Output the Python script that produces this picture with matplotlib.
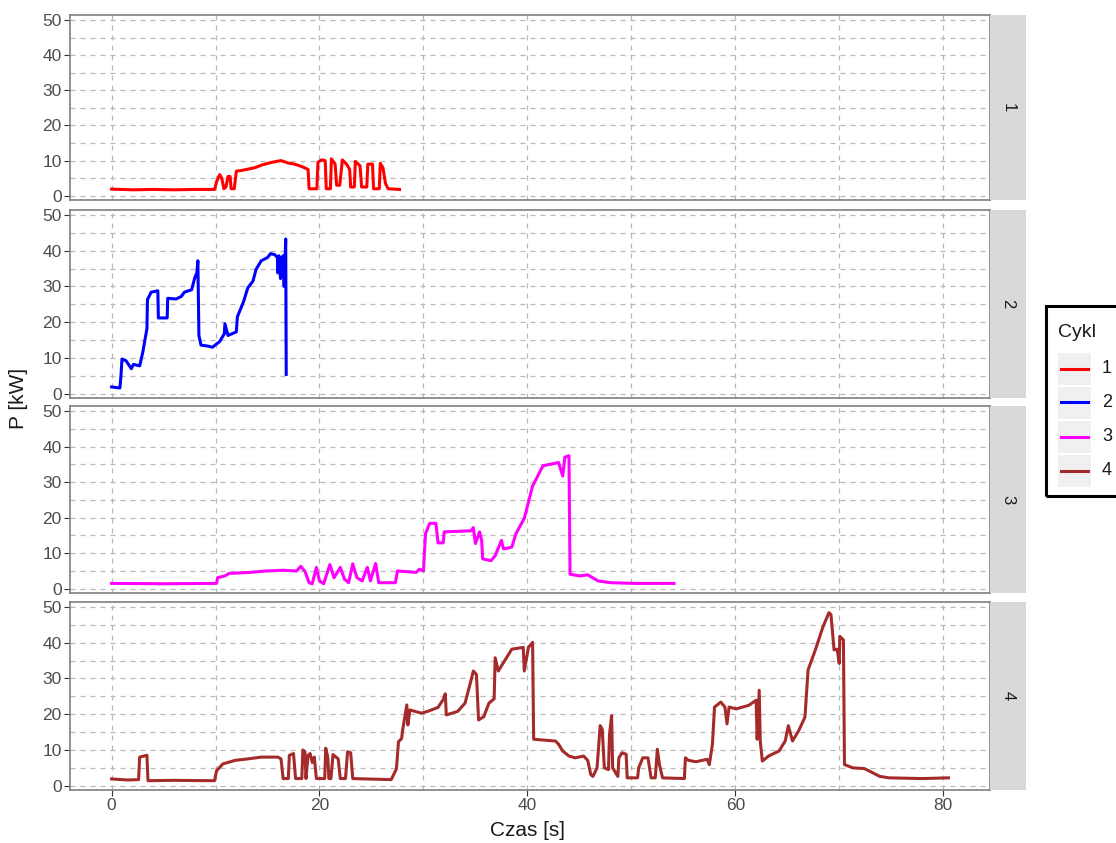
import matplotlib
matplotlib.use("Agg")
import matplotlib.pyplot as plt
from matplotlib.patches import Rectangle
from matplotlib.lines import Line2D

plt.rcParams["font.family"] = ["Liberation Sans", "DejaVu Sans"]

# --- data: time [s], power [kW] per cycle ---
t1 = [0, 2, 4, 6, 8, 9.9, 10.1, 10.4, 10.6, 10.8, 11.0, 11.2, 11.4, 11.5, 11.8, 12.0,
      12.5, 13.0, 13.8, 14.5, 15.4, 16.3, 17.0, 17.6, 18.3, 18.9, 19.0, 19.75, 19.85,
      20.2, 20.55, 20.65, 21.05, 21.15, 21.5, 21.65, 21.95, 22.2, 22.6, 22.9, 23.0, 23.35,
      23.45, 23.9, 24.05, 24.55, 24.65, 25.1, 25.2, 25.75, 25.85, 26.1, 26.35, 26.6, 27.7]
p1 = [1.9, 1.7, 1.8, 1.7, 1.8, 1.8, 4.0, 6.0, 5.0, 2.0, 2.5, 5.5, 5.5, 2.0, 2.0, 7.0,
      7.2, 7.5, 8.0, 8.8, 9.5, 10.0, 9.3, 9.0, 8.3, 7.5, 2.0, 2.0, 9.5,
      10.2, 10.0, 2.0, 2.0, 10.5, 9.0, 3.0, 3.0, 10.2, 9.0, 7.5, 2.5, 2.5,
      9.8, 8.5, 2.5, 2.5, 9.0, 9.0, 2.0, 2.0, 9.2, 8.0, 3.5, 2.0, 1.8]

t2 = [0, 0.8, 0.9, 1.0, 1.4, 1.9, 2.1, 2.7, 3.0, 3.2, 3.4, 3.45, 3.8, 4.45, 4.5, 5.35,
      5.4, 6.2, 6.7, 7.0, 7.7, 8.0, 8.2, 8.3, 8.4, 8.6, 9.3, 9.7, 10.4, 10.85, 10.9,
      11.2, 12.0, 12.1, 12.7, 13.1, 13.6, 13.9, 14.4, 15.0, 15.3, 15.7, 15.95, 16.0,
      16.1, 16.25, 16.4, 16.5, 16.6, 16.75, 16.8]
p2 = [1.9, 1.6, 4.9, 9.7, 9.2, 7.0, 8.2, 7.8, 11.6, 14.9, 18.2, 26.3, 28.4, 28.8, 21.2,
      21.2, 26.7, 26.5, 27.2, 28.4, 29.1, 32.4, 33.8, 37.2, 16.3, 13.6, 13.3, 13.0, 14.6,
      16.8, 19.6, 16.3, 17.3, 21.5, 25.8, 29.6, 31.5, 34.8, 37.2, 38.1, 39.2, 38.9, 38.1,
      33.8, 38.6, 32.2, 38.1, 38.6, 30.0, 43.3, 5.4]

t3 = [0, 5, 10.1, 10.2, 10.9, 11.3, 13.3, 14.9, 16.5, 17.8, 18.2, 18.6, 19.0, 19.3, 19.7,
      20.0, 20.4, 21.0, 21.4, 22.0, 22.4, 22.8, 23.2, 23.6, 24.1, 24.6, 24.9, 25.4, 25.7,
      27.3, 27.5, 29.3, 29.6, 30.0, 30.2, 30.6, 31.2, 31.4, 31.9, 32.0, 34.6, 34.8, 35.0,
      35.4, 35.6, 35.7, 36.5, 36.9, 37.5, 37.7, 38.5, 38.9, 39.7, 40.5, 41.5, 42.2, 43.0,
      43.4, 43.6, 44.0, 44.1, 45.0, 45.8, 46.8, 48.0, 50.3, 54.1]
p3 = [1.5, 1.4, 1.5, 3.1, 3.6, 4.3, 4.6, 5.0, 5.2, 5.0, 6.3, 4.9, 1.7, 1.4, 6.0,
      2.2, 1.4, 6.8, 3.1, 6.0, 2.7, 1.7, 7.0, 3.1, 2.2, 6.0, 2.2, 7.1, 1.7,
      1.7, 5.0, 4.6, 5.5, 5.0, 15.5, 18.4, 18.4, 12.9, 12.9, 16.0, 16.3, 17.2, 12.7,
      16.0, 13.6, 8.4, 7.9, 9.3, 13.6, 11.2, 11.7, 15.5, 19.8, 28.9, 34.6, 35.0, 35.5,
      31.7, 37.0, 37.4, 4.1, 3.6, 3.9, 2.2, 1.7, 1.5, 1.5]

t4 = [0, 1.5, 2.6, 2.7, 3.4, 3.5, 6, 9.9, 10.1, 10.7, 11.9, 13.1, 14.4, 16.0, 16.3, 16.5,
      17.0, 17.1, 17.5, 17.7, 18.3, 18.4, 18.6, 18.7, 18.9, 19.1, 19.3, 19.5, 19.7, 20.5,
      20.6, 20.8, 20.9, 21.1, 21.3, 21.8, 22.0, 22.5, 22.7, 23.0, 23.2,
      26.9, 27.4, 27.6, 27.9, 28.0, 28.4, 28.5, 28.7, 29.8, 30.4, 31.4,
      31.9, 32.1, 32.2, 33.3, 34.0, 34.4, 34.8, 35.1, 35.3, 35.8, 36.3, 36.8, 36.9, 37.2,
      37.8, 38.5, 39.6, 39.7, 40.1, 40.5, 40.6, 42.7, 43.0, 43.4, 44.0, 44.6, 45.4, 45.8,
      46.1, 46.3, 46.7, 47.0, 47.2, 47.4, 47.8, 47.9, 48.1, 48.2, 48.7, 48.8, 49.1, 49.5,
      49.6, 50.6, 50.7, 51.1, 51.6, 51.9, 52.3, 52.5, 52.7, 53.0, 55.1, 55.2, 55.5, 56.2,
      57.3, 57.5, 57.8, 58.0, 58.6, 59.0, 59.2, 59.4, 60.1, 61.3, 62.0, 62.1, 62.3, 62.4,
      62.6, 63.2, 64.2, 64.8, 65.1, 65.5, 66.1, 66.7, 67.0, 67.7, 68.4, 69.0, 69.2, 69.5,
      69.8, 70.0, 70.05, 70.4, 70.5, 71.3, 72.4, 72.9, 73.9, 74.8, 78.0, 80.5]
p4 = [1.9, 1.6, 1.7, 8.0, 8.5, 1.4, 1.5, 1.4, 4.2, 6.1, 7.1, 7.5, 8.0, 8.0, 7.5, 2.0,
      2.0, 8.5, 9.0, 2.0, 2.0, 10.0, 9.5, 2.0, 8.5, 9.0, 6.5, 8.0, 2.0, 2.0,
      10.5, 8.0, 2.0, 2.0, 8.7, 7.5, 2.0, 2.0, 9.5, 9.2, 2.0,
      1.7, 4.7, 12.3, 13.2, 15.6, 22.6, 17.0, 21.2, 20.3, 20.8, 21.9,
      24.1, 25.7, 19.8, 20.8, 23.1, 27.5, 32.1, 31.1, 18.4, 19.3, 23.1, 24.3, 35.8, 32.1,
      34.9, 38.2, 38.7, 32.1, 38.7, 40.1, 13.0, 12.5, 11.6, 9.7, 8.3, 7.8, 8.3, 7.1,
      3.1, 2.6, 5.0, 16.8, 15.8, 5.0, 4.5, 14.4, 19.6, 5.0, 2.6, 7.8, 9.2, 8.8,
      2.2, 2.2, 5.0, 7.8, 7.8, 2.2, 2.2, 10.2, 5.9, 2.2, 2.0, 7.8, 7.1, 6.7,
      7.4, 5.9, 11.6, 22.0, 23.4, 22.0, 17.3, 22.0, 21.5, 22.5, 23.9, 13.0, 26.7, 12.5,
      6.9, 8.3, 9.7, 12.5, 16.8, 12.5, 15.4, 19.2, 32.4, 38.0, 44.2, 48.4, 47.9, 38.0,
      38.2, 34.2, 41.8, 40.8, 5.9, 5.0, 4.8, 4.1, 2.6, 2.2, 2.0, 2.2]

cycles = ["1", "2", "3", "4"]
colors = ["#ff0000", "#0000ff", "#ff00ff", "#a52a2a"]
series = [(t1, p1), (t2, p2), (t3, p3), (t4, p4)]

fig = plt.figure(figsize=(11.16, 8.43), dpi=100)
W, H = 1116, 843

# panel pixel boxes (top, bottom)
panel_rows = [(15, 200), (210, 398), (406, 593), (602, 790)]
left_px, right_px, strip_px = 70, 990, 1026

for i, ((top, bot), (t, p)) in enumerate(zip(panel_rows, series)):
    ax = fig.add_axes([left_px / W, 1 - bot / H, (right_px - left_px) / W, (bot - top) / H])
    ax.plot(t, p, color=colors[i], lw=2.2, solid_joinstyle="round")
    ax.set_xlim(-4.0, 84.5)
    ax.set_ylim(-1.2, 51.4)
    ax.set_xticks([0, 20, 40, 60, 80])
    ax.set_xticks([10, 30, 50, 70], minor=True)
    ax.set_yticks([0, 10, 20, 30, 40, 50])
    ax.set_yticks([5, 15, 25, 35, 45], minor=True)
    ax.grid(which="both", ls=(0, (4, 4)), color="#b8b8b8", lw=0.9)
    ax.set_axisbelow(True)
    ax.tick_params(which="major", direction="out", length=4, color="#333333",
                   labelcolor="#4d4d4d", labelsize=12.5, pad=2)
    ax.tick_params(which="minor", length=0)
    for s in ax.spines.values():
        s.set_color("#7f7f7f")
        s.set_linewidth(1.2)
    if i < 3:
        ax.tick_params(axis="x", which="major", length=0, labelbottom=False)

    # facet strip on the right
    sax = fig.add_axes([right_px / W, 1 - bot / H, (strip_px - right_px) / W, (bot - top) / H])
    sax.set_facecolor("#d9d9d9")
    sax.set_xticks([])
    sax.set_yticks([])
    for s in sax.spines.values():
        s.set_visible(False)
    sax.text(0.5, 0.5, cycles[i], rotation=270, ha="center", va="center",
             fontsize=12, color="#1a1a1a", transform=sax.transAxes)

fig.text(527 / W, 1 - 830 / H, "Czas [s]", ha="center", va="center", fontsize=15, color="#1a1a1a")
fig.text(19 / W, 1 - 398 / H, "P [kW]", ha="center", va="center", rotation=90,
         fontsize=15, color="#1a1a1a")

# legend, drawn by hand to get ggplot-style grey key boxes
fig.add_artist(Rectangle((1046 / W, 1 - 496 / H), 90 / W, 190 / H, transform=fig.transFigure,
                         fill=False, edgecolor="black", lw=2.2))
fig.text(1058 / W, 1 - 332 / H, "Cykl", ha="left", va="center", fontsize=14, color="#1a1a1a")
key_tops = [352, 386, 420, 454]
for top, lab, col in zip(key_tops, cycles, colors):
    fig.add_artist(Rectangle((1058 / W, 1 - (top + 33) / H), 33 / W, 32 / H,
                             transform=fig.transFigure, facecolor="#f0f0f0", edgecolor="none"))
    yc = 1 - (top + 16.5) / H
    fig.add_artist(Line2D([1061 / W, 1088 / W], [yc, yc], transform=fig.transFigure,
                          color=col, lw=2.2))
    fig.text(1102 / W, yc, lab, ha="left", va="center", fontsize=13, color="#1a1a1a")

fig.savefig("out.png", dpi=100)
